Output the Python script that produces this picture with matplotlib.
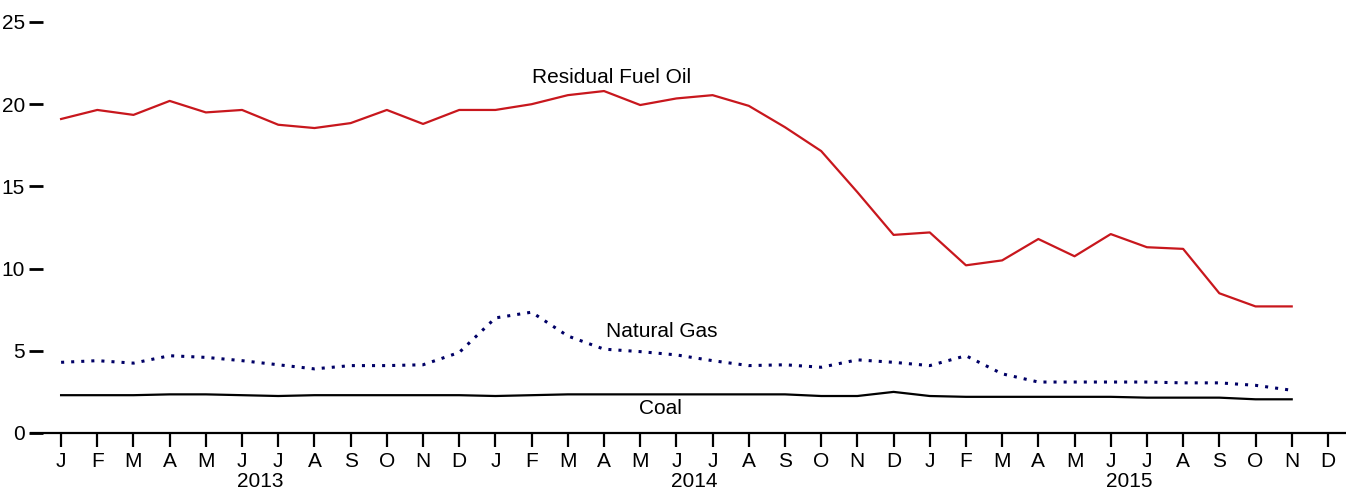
import matplotlib.pyplot as plt
import numpy as np

plt.rcParams['font.family'] = ['Liberation Sans', 'DejaVu Sans']

months = ['J', 'F', 'M', 'A', 'M', 'J', 'J', 'A', 'S', 'O', 'N', 'D'] * 3
years = ['2013', '2014', '2015']

# monthly values, Jan 2013 - Nov 2015
residual_fuel_oil = [19.1, 19.65, 19.35, 20.2, 19.5, 19.65, 18.75, 18.55, 18.85, 19.65, 18.8, 19.65,
                     19.65, 20.0, 20.55, 20.8, 19.95, 20.35, 20.55, 19.9, 18.6, 17.15, 14.65, 12.05,
                     12.2, 10.2, 10.5, 11.8, 10.75, 12.1, 11.3, 11.2, 8.5, 7.7, 7.7]
natural_gas = [4.3, 4.4, 4.25, 4.7, 4.6, 4.4, 4.15, 3.9, 4.1, 4.1, 4.15, 4.9,
               7.0, 7.35, 5.9, 5.1, 4.95, 4.75, 4.4, 4.1, 4.15, 4.0, 4.45, 4.3,
               4.1, 4.7, 3.6, 3.1, 3.1, 3.1, 3.1, 3.05, 3.05, 2.9, 2.6]
coal = [2.3, 2.3, 2.3, 2.35, 2.35, 2.3, 2.25, 2.3, 2.3, 2.3, 2.3, 2.3,
        2.25, 2.3, 2.35, 2.35, 2.35, 2.35, 2.35, 2.35, 2.35, 2.25, 2.25, 2.5,
        2.25, 2.2, 2.2, 2.2, 2.2, 2.2, 2.15, 2.15, 2.15, 2.05, 2.05]

x = np.arange(len(residual_fuel_oil))
fs = 15

fig = plt.figure(figsize=(13.53, 4.96), dpi=100)
ax = fig.add_axes([43 / 1353, 1 - 433 / 496, 1303 / 1353, 411 / 496])

ax.plot(x, residual_fuel_oil, color='#c8171d', lw=1.6)
ax.plot(x, natural_gas, color='#000066', lw=2.2, linestyle=(0, (1, 2.3)))
ax.plot(x, coal, color='black', lw=1.6)

ax.text(15.2, 21.6, 'Residual Fuel Oil', ha='center', va='center', fontsize=fs)
ax.text(16.6, 6.15, 'Natural Gas', ha='center', va='center', fontsize=fs)
ax.text(16.55, 1.5, 'Coal', ha='center', va='center', fontsize=fs)

ax.set_xlim(-0.5, 35.5)
ax.set_ylim(0, 25)
for s in ax.spines.values():
    s.set_visible(False)

# baseline running a little past the left of the axes
ax.plot([-0.85, 35.5], [0, 0], color='black', lw=1.6, clip_on=False,
        solid_capstyle='butt')

ax.set_yticks([0, 5, 10, 15, 20, 25])
ax.tick_params(axis='y', length=10, width=2, direction='out', labelsize=fs, pad=3)
ax.set_xticks(np.arange(36))
ax.set_xticklabels(months)
ax.tick_params(axis='x', length=10, width=1.6, direction='out', labelsize=fs, pad=4)

for i, yr in enumerate(years):
    ax.text(i * 12 + 5.5, -2.95, yr, ha='center', va='center', fontsize=fs)

fig.savefig('out.png', dpi=100)
